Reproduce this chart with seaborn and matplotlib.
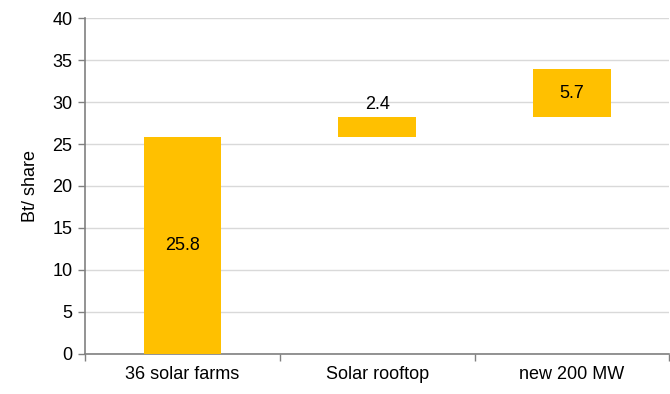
import matplotlib
matplotlib.use("Agg")
import matplotlib.pyplot as plt
import numpy as np
import pandas as pd
import seaborn as sns

# waterfall data
categories = ["36 solar farms", "Solar rooftop", "new 200 MW"]
values = [25.8, 2.4, 5.7]
bases = [0.0, 25.8, 28.2]

df = pd.DataFrame({"category": categories, "value": values, "base": bases})

sns.set_style("white")
plt.rcParams["font.family"] = ["Liberation Sans", "DejaVu Sans"]
plt.rcParams["text.color"] = "black"
plt.rcParams["axes.labelcolor"] = "black"
plt.rcParams["xtick.color"] = "black"
plt.rcParams["ytick.color"] = "black"

fig = plt.figure(figsize=(6.7, 3.94), dpi=100)
ax = fig.add_axes([0.127, 0.102, 0.872, 0.852])

sns.barplot(data=df, x="category", y="value", bottom=df["base"], color="#FFC000",
            saturation=1, width=0.4, linewidth=0, ax=ax, zorder=3)

# value labels
for i, (v, b) in enumerate(zip(values, bases)):
    if v < 3:
        ax.text(i, b + v + 0.5, f"{v:.1f}", ha="center", va="bottom", fontsize=13)
    else:
        ax.text(i, b + v / 2, f"{v:.1f}", ha="center", va="center", fontsize=13)

ax.set_ylim(0, 40)
ax.set_xlim(-0.5, 2.5)
ax.set_yticks(np.arange(0, 41, 5))
ax.yaxis.grid(True, color="#D9D9D9", linewidth=1)
ax.set_axisbelow(True)

ax.set_xticks([0, 1, 2])
ax.set_xticklabels(categories)
ax.set_xticks([-0.5, 0.5, 1.5, 2.5], minor=True)
ax.tick_params(axis="x", which="major", bottom=False, length=0, labelsize=13, pad=9,
               labelcolor="black")
ax.tick_params(axis="x", which="minor", bottom=True, length=5, color="#808080",
               width=1, direction="out")
ax.tick_params(axis="y", left=True, length=5, color="#808080", width=1, direction="out",
               labelsize=13, pad=4, labelcolor="black")

ax.set_xlabel("")
ax.set_ylabel("Bt/ share", fontsize=13, labelpad=10, color="black")

for s in ["top", "right"]:
    ax.spines[s].set_visible(False)
for s in ["left", "bottom"]:
    ax.spines[s].set_color("#808080")
    ax.spines[s].set_linewidth(1.2)

fig.savefig("out.png", dpi=100)
